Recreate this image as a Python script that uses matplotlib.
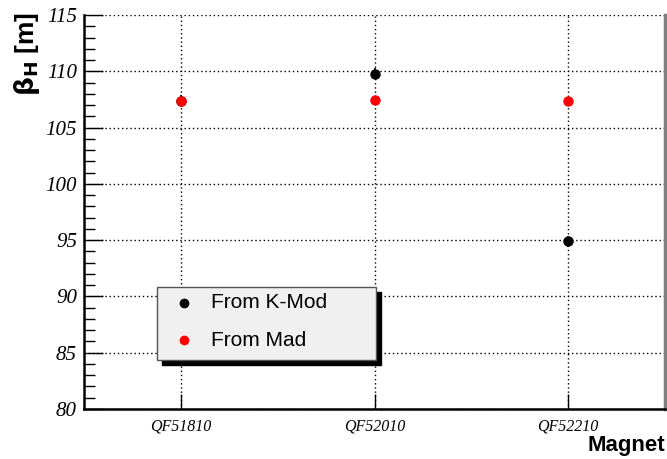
import matplotlib
matplotlib.use("Agg")
import matplotlib.pyplot as plt
from matplotlib.ticker import MultipleLocator
from matplotlib.patches import Rectangle
from matplotlib.lines import Line2D
from matplotlib.font_manager import FontProperties

magnets = ["QF51810", "QF52010", "QF52210"]
beta_kmod = [107.4, 109.8, 94.9]
beta_kmod_err = [0.5, 0.5, 0.5]
beta_mad = [107.35, 107.45, 107.35]
y_ticks = [80, 85, 90, 95, 100, 105, 110, 115]

W, H = 667, 459
fig = plt.figure(figsize=(W/100, H/100), dpi=100)
ax = fig.add_axes([84/W, 50/H, 581/W, 394/H])

x = list(range(len(magnets)))
ax.errorbar(x, beta_kmod, yerr=beta_kmod_err, fmt='o', color='black', ms=6.5,
            elinewidth=1.2, capsize=0, zorder=3)
ax.plot(x, beta_mad, 'o', color='red', ms=6.5, zorder=4)

ax.set_xlim(-0.5, 2.5)
ax.set_ylim(80, 115)
ax.set_xticks(x)
fp_x = FontProperties(family="Liberation Serif", style="italic", size=11.5)
fp_y = FontProperties(family="Liberation Serif", style="italic", size=15)
ax.set_xticklabels(magnets, fontproperties=fp_x)
ax.set_yticks(y_ticks)
ax.set_yticklabels([str(v) for v in y_ticks], fontproperties=fp_y)
ax.yaxis.set_minor_locator(MultipleLocator(1))
ax.tick_params(axis='y', which='major', direction='in', length=14, width=1, pad=5)
ax.tick_params(axis='y', which='minor', direction='in', length=8, width=1)
ax.tick_params(axis='x', which='major', direction='in', length=11, width=1, pad=7)

ax.grid(True, which='major', linestyle=(0, (1, 2)), color='black', linewidth=1)
ax.set_axisbelow(True)

ax.spines['top'].set_visible(False)
ax.spines['right'].set_color('#808080')
ax.spines['right'].set_linewidth(2.5)
ax.spines['left'].set_linewidth(1.8)
ax.spines['bottom'].set_linewidth(1.8)

fig.text(27/W, 1 - 12/H, r"$\mathbf{\beta_H}$ [m]", rotation=90, ha='center', va='top',
         fontsize=19, fontweight='bold', fontfamily='Liberation Sans')
fig.text(1 - 2/W, 3/H, "Magnet", ha='right', va='bottom', fontsize=16,
         fontweight='bold', fontfamily='Liberation Sans')

# legend with shadow
lx0, ly0, lw, lh = 157/W, (H-360)/H, 219/W, 73/H
fig.patches.append(Rectangle((lx0 + 5/W, ly0 - 5/H), lw, lh, transform=fig.transFigure,
                             facecolor='black', edgecolor='black', zorder=5))
fig.patches.append(Rectangle((lx0, ly0), lw, lh, transform=fig.transFigure,
                             facecolor='#f0f0f0', edgecolor='#555555', linewidth=1, zorder=6))
entries = [("From K-Mod", 'black', 303), ("From Mad", 'red', 340)]
for label, col, ypx in entries:
    fig.add_artist(Line2D([184/W], [1 - ypx/H], marker='o', color=col, ms=6,
                          linestyle='none', transform=fig.transFigure, zorder=7))
    fig.text(211/W, 1 - ypx/H, label, ha='left', va='center', fontsize=15,
             fontfamily='Liberation Sans', zorder=7)

fig.savefig("out.png", dpi=100)
